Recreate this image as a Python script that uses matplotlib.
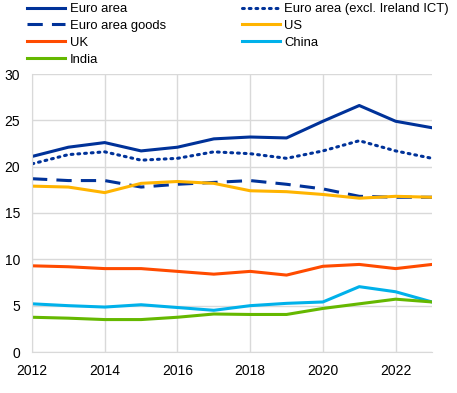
import matplotlib.pyplot as plt
import numpy as np

plt.rcParams['font.family'] = ['Liberation Sans', 'DejaVu Sans']

years = np.arange(2012, 2024)

euro_area = [21.1, 22.1, 22.6, 21.7, 22.1, 23.0, 23.2, 23.1, 24.9, 26.6, 24.9, 24.2]
euro_excl_ict = [20.3, 21.3, 21.6, 20.7, 20.9, 21.6, 21.4, 20.9, 21.7, 22.8, 21.7, 20.9]
euro_goods = [18.7, 18.5, 18.5, 17.8, 18.1, 18.3, 18.5, 18.1, 17.6, 16.8, 16.7, 16.7]
us = [17.9, 17.8, 17.2, 18.2, 18.4, 18.2, 17.4, 17.3, 17.0, 16.6, 16.8, 16.7]
uk = [9.3, 9.2, 9.0, 9.0, 8.7, 8.4, 8.7, 8.3, 9.25, 9.45, 9.0, 9.45]
china = [5.2, 5.0, 4.85, 5.1, 4.8, 4.5, 5.0, 5.25, 5.4, 7.05, 6.5, 5.4]
india = [3.75, 3.65, 3.5, 3.5, 3.75, 4.1, 4.05, 4.05, 4.7, 5.2, 5.7, 5.4]

fig = plt.figure(figsize=(4.57, 3.93), dpi=100)
ax = fig.add_axes([32 / 457, 1 - 352 / 393, 400 / 457, 278 / 393])

lw = 2.2
l_ea, = ax.plot(years, euro_area, color='#003299', lw=lw, label='Euro area')
l_ex, = ax.plot(years, euro_excl_ict, color='#003299', lw=lw, ls=(0, (0.6, 1.6)),
                dash_capstyle='round', label='Euro area (excl. Ireland ICT)')
l_eg, = ax.plot(years, euro_goods, color='#003299', lw=lw, ls=(0, (5, 3)),
                label='Euro area goods')
l_us, = ax.plot(years, us, color='#FFB400', lw=lw, label='US')
l_uk, = ax.plot(years, uk, color='#FF4B00', lw=lw, label='UK')
l_cn, = ax.plot(years, china, color='#00B1EA', lw=lw, label='China')
l_in, = ax.plot(years, india, color='#65B800', lw=lw, label='India')

ax.set_xlim(2012, 2023)
ax.set_ylim(0, 30)
ax.set_xticks(range(2012, 2024, 2))
ax.set_yticks(range(0, 31, 5))
ax.tick_params(length=0, labelsize=10, pad=8.5)
ax.grid(color='#d9d9d9', lw=1)
ax.set_axisbelow(True)
for s in ['top', 'right']:
    ax.spines[s].set_visible(False)
for s in ['left', 'bottom']:
    ax.spines[s].set_color('#d9d9d9')

handles = [l_ea, l_eg, l_uk, l_in, l_ex, l_us, l_cn]
fig.legend(handles=handles, labels=[h.get_label() for h in handles], ncol=2,
           loc='upper left', bbox_to_anchor=(27 / 457, 1 - 3 / 393), frameon=False,
           fontsize=9.4, handlelength=2.9, handletextpad=0.38,
           columnspacing=5.8, labelspacing=0.36, borderpad=0, borderaxespad=0)

fig.savefig('out.png', dpi=100)
